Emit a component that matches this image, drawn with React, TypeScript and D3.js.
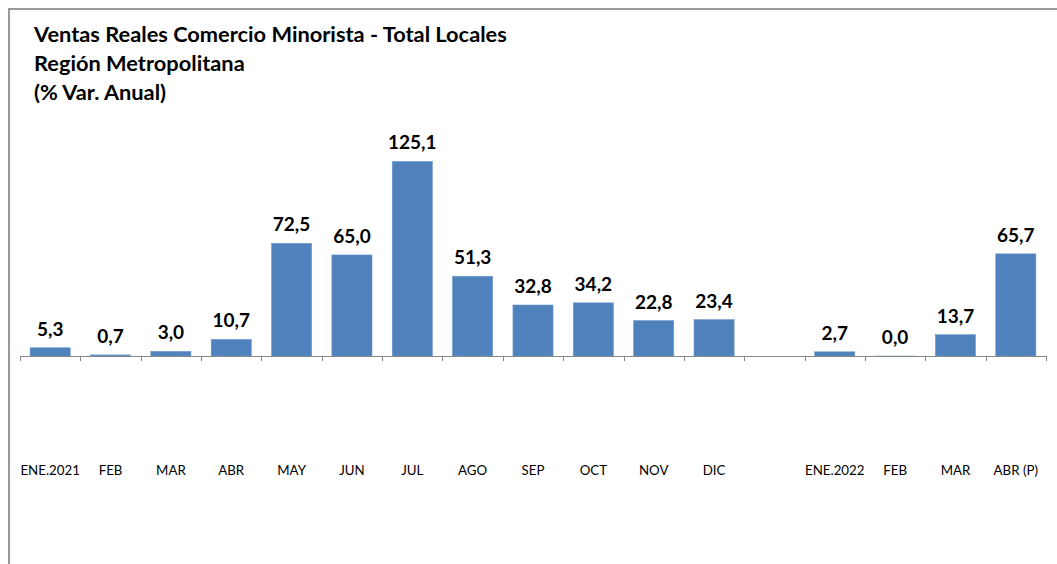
import { useEffect, useRef } from "react";
import * as d3 from "d3";

// Data
const categories = [
  "ENE.2021", "FEB", "MAR", "ABR", "MAY", "JUN", "JUL", "AGO", "SEP",
  "OCT", "NOV", "DIC", "", "ENE.2022", "FEB ", "MAR ", "ABR (P)",
];
const values: (number | null)[] = [
  5.3, 0.7, 3.0, 10.7, 72.5, 65.0, 125.1, 51.3, 32.8,
  34.2, 22.8, 23.4, null, 2.7, 0.0, 13.7, 65.7,
];
const titleLines = [
  "Ventas Reales Comercio Minorista - Total Locales",
  "Región Metropolitana",
  "(% Var. Anual)",
];

const fmt = (v: number) => v.toFixed(1).replace(".", ",");
const font = "Lato, 'Open Sans', sans-serif";

export default function App() {
  const svgRef = useRef<SVGSVGElement>(null);

  useEffect(() => {
    const width = 1057;
    const height = 564;
    const baseY = 356;
    const left = 20;
    const right = 1046;

    const svg = d3.select(svgRef.current).attr("width", width).attr("height", height);
    svg.selectAll("*").remove();

    // Frame
    svg
      .append("path")
      .attr("d", `M9,${height} L9,9 L${width},9`)
      .attr("fill", "none")
      .attr("stroke", "#999")
      .attr("stroke-width", 2);

    // Title
    svg
      .append("g")
      .selectAll("text")
      .data(titleLines)
      .join("text")
      .attr("x", 34)
      .attr("y", (_, i) => 42 + i * 29)
      .attr("font-family", font)
      .attr("font-weight", "bold")
      .attr("font-size", 21.8)
      .attr("fill", "#000")
      .text((d) => d);

    const x = d3
      .scaleBand()
      .domain(categories)
      .range([left, right])
      .paddingInner(0.335)
      .paddingOuter(0.1675);

    const y = d3.scaleLinear().domain([0, 140]).range([baseY, baseY - 140 * 1.5548]);

    // Bars
    const idx = d3.range(categories.length).filter((i) => values[i] !== null);
    svg
      .append("g")
      .selectAll("rect")
      .data(idx)
      .join("rect")
      .attr("x", (i) => x(categories[i])!)
      .attr("y", (i) => y(values[i]!))
      .attr("width", x.bandwidth())
      .attr("height", (i) => Math.max(0.5, baseY - y(values[i]!)))
      .attr("fill", "#4F81BD")
      .attr("stroke", "#6F9BD1")
      .attr("stroke-width", 0.6);

    // Value labels
    svg
      .append("g")
      .selectAll("text")
      .data(idx)
      .join("text")
      .attr("x", (i) => x(categories[i])! + x.bandwidth() / 2)
      .attr("y", (i) => y(values[i]!) - 12)
      .attr("text-anchor", "middle")
      .attr("font-family", font)
      .attr("font-weight", "bold")
      .attr("font-size", 19)
      .attr("fill", "#000")
      .text((i) => fmt(values[i]!));

    // Axis line and ticks
    const step = (right - left) / categories.length;
    const axis = svg.append("g").attr("stroke", "#888").attr("stroke-width", 1);
    axis
      .append("line")
      .attr("x1", left)
      .attr("x2", right)
      .attr("y1", baseY + 0.5)
      .attr("y2", baseY + 0.5);
    axis
      .selectAll("line.tick")
      .data(d3.range(categories.length + 1))
      .join("line")
      .attr("class", "tick")
      .attr("x1", (k) => Math.round(left + k * step) + 0.5)
      .attr("x2", (k) => Math.round(left + k * step) + 0.5)
      .attr("y1", baseY)
      .attr("y2", baseY + 5);

    // Category labels
    svg
      .append("g")
      .selectAll("text")
      .data(categories)
      .join("text")
      .attr("x", (d) => x(d)! + x.bandwidth() / 2)
      .attr("y", 475)
      .attr("text-anchor", "middle")
      .attr("font-family", font)
      .attr("font-size", 13.3)
      .attr("fill", "#000")
      .text((d) => d.trim());
  }, []);

  return (
    <div style={{ position: "absolute", left: 0, top: 0 }}>
      <svg ref={svgRef}></svg>
    </div>
  );
}
